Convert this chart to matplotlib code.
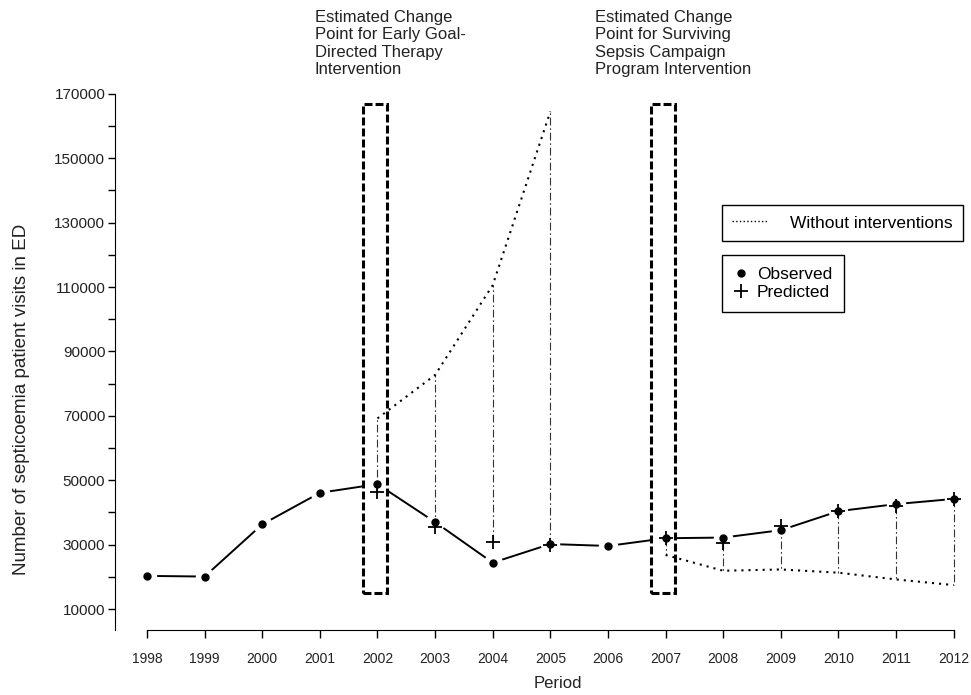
import matplotlib
matplotlib.use("Agg")
import matplotlib.pyplot as plt
from matplotlib.lines import Line2D
from matplotlib.patches import Rectangle

plt.rcParams['font.family'] = ['Liberation Sans', 'DejaVu Sans']

# yearly ED visits for septicaemia
years = list(range(1998, 2013))
observed = [20300, 20100, 36300, 46100, 48800, 37000, 24400, 30200,
            29600, 32000, 32200, 34500, 40400, 42600, 44200]

# segmented model fit after each change point
pred_years_egdt = [2002, 2003, 2004, 2005]
pred_egdt = [46400, 35600, 30800, 29900]
pred_years_ssc = [2007, 2008, 2009, 2010, 2011, 2012]
pred_ssc = [32000, 30600, 35900, 40400, 42000, 44200]

# counterfactual trend without the interventions
cf_egdt = [69200, 82700, 110600, 164500]
cf_ssc = [26800, 21900, 22300, 21300, 19200, 17450]

change_points = [2002, 2007]
change_labels = [
    "Estimated Change\nPoint for Early Goal-\nDirected Therapy\nIntervention",
    "Estimated Change\nPoint for Surviving\nSepsis Campaign\nProgram Intervention",
]

W, H = 971, 695
fig = plt.figure(figsize=(W / 100, H / 100), dpi=100)
ax = fig.add_axes([115 / W, 65 / H, (W - 115) / W, (630 - 87.4) / H])
ax.set_xlim(1997.445, 2012.3)
ax.set_ylim(3500, 172000)

# observed series, type="b" style with small gaps at the points
ax.plot(years, observed, color='black', lw=1.4, zorder=2)
ax.plot(years, observed, ls='none', marker='o', ms=14, mfc='white',
        mec='none', zorder=2.2)

# change point boxes
for cp in change_points:
    ax.add_patch(Rectangle((cp - 0.25, 15000), 0.42, 152000, fill=True,
                           facecolor='white', edgecolor='black', lw=2.2,
                           ls=(0, (2.6, 1.0)), zorder=2.5))

# vertical links predicted -> counterfactual
for xs, ps, cs in [(pred_years_egdt, pred_egdt, cf_egdt),
                   (pred_years_ssc, pred_ssc, cf_ssc)]:
    ax.vlines(xs, ps, cs, colors='#333333', lw=0.8,
              linestyles=[(0, (7, 2.5, 1.5, 2.5))], zorder=3)
    ax.plot(xs, cs, color='black', lw=1.5, ls=(0, (1.0, 2.4)), zorder=3)

ax.plot(years, observed, ls='none', marker='o', ms=5, color='black', zorder=5)
ax.plot(pred_years_egdt + pred_years_ssc, pred_egdt + pred_ssc, ls='none',
        marker='+', ms=10, mew=1.3, color='black', zorder=5)

# axes in base-R style
for side in ['top', 'right']:
    ax.spines[side].set_visible(False)
ax.spines['bottom'].set_bounds(1998, 2012)
ax.spines['left'].set_bounds(3500, 170000)
ax.set_xticks(years)
ax.set_xticklabels([str(y) for y in years], fontsize=10, color='#222222')
ax.set_yticks(range(10000, 170001, 10000))
ax.set_yticklabels([str(v) if (v // 10000) % 2 == 1 else ''
                    for v in range(10000, 170001, 10000)],
                   fontsize=11, color='#222222')
ax.tick_params(axis='x', length=6, width=1, pad=10)
ax.tick_params(axis='y', length=5, width=1, pad=2)

fig.text(22 / W, 1 - 399 / H, "Number of septicoemia patient visits in ED",
         rotation=90, ha='center', va='center', fontsize=13.5, color='#222222')
fig.text(558 / W, 1 - 683 / H, "Period", ha='center', va='center',
         fontsize=12, color='#222222')

for x0, label in zip([315, 595], change_labels):
    fig.text(x0 / W, 1 - 10 / H, label, ha='left', va='top', fontsize=12,
             linespacing=1.2, color='#222222')

leg1 = ax.legend([Line2D([], [], color='black', lw=1, ls=':')],
                 ["Without interventions"], loc='upper left',
                 bbox_to_anchor=(722 / W, 1 - 205 / H),
                 bbox_transform=fig.transFigure, borderaxespad=0,
                 fancybox=False, framealpha=1, edgecolor='black',
                 fontsize=12.5, handlelength=2.0, handletextpad=1.3,
                 borderpad=0.6)
leg1.get_frame().set_linewidth(1.0)
ax.add_artist(leg1)

leg2 = ax.legend([Line2D([], [], ls='none', marker='o', ms=5, color='black'),
                  Line2D([], [], ls='none', marker='+', ms=10, mew=1.3,
                         color='black')],
                 ["Observed", "Predicted"], loc='upper left',
                 bbox_to_anchor=(722 / W, 1 - 255 / H),
                 bbox_transform=fig.transFigure, borderaxespad=0,
                 fancybox=False, framealpha=1, edgecolor='black',
                 fontsize=12.5, handlelength=0.8, handletextpad=0.5,
                 labelspacing=0.15, borderpad=0.7)
leg2.get_frame().set_linewidth(1.0)

fig.savefig("out.png", dpi=100)
